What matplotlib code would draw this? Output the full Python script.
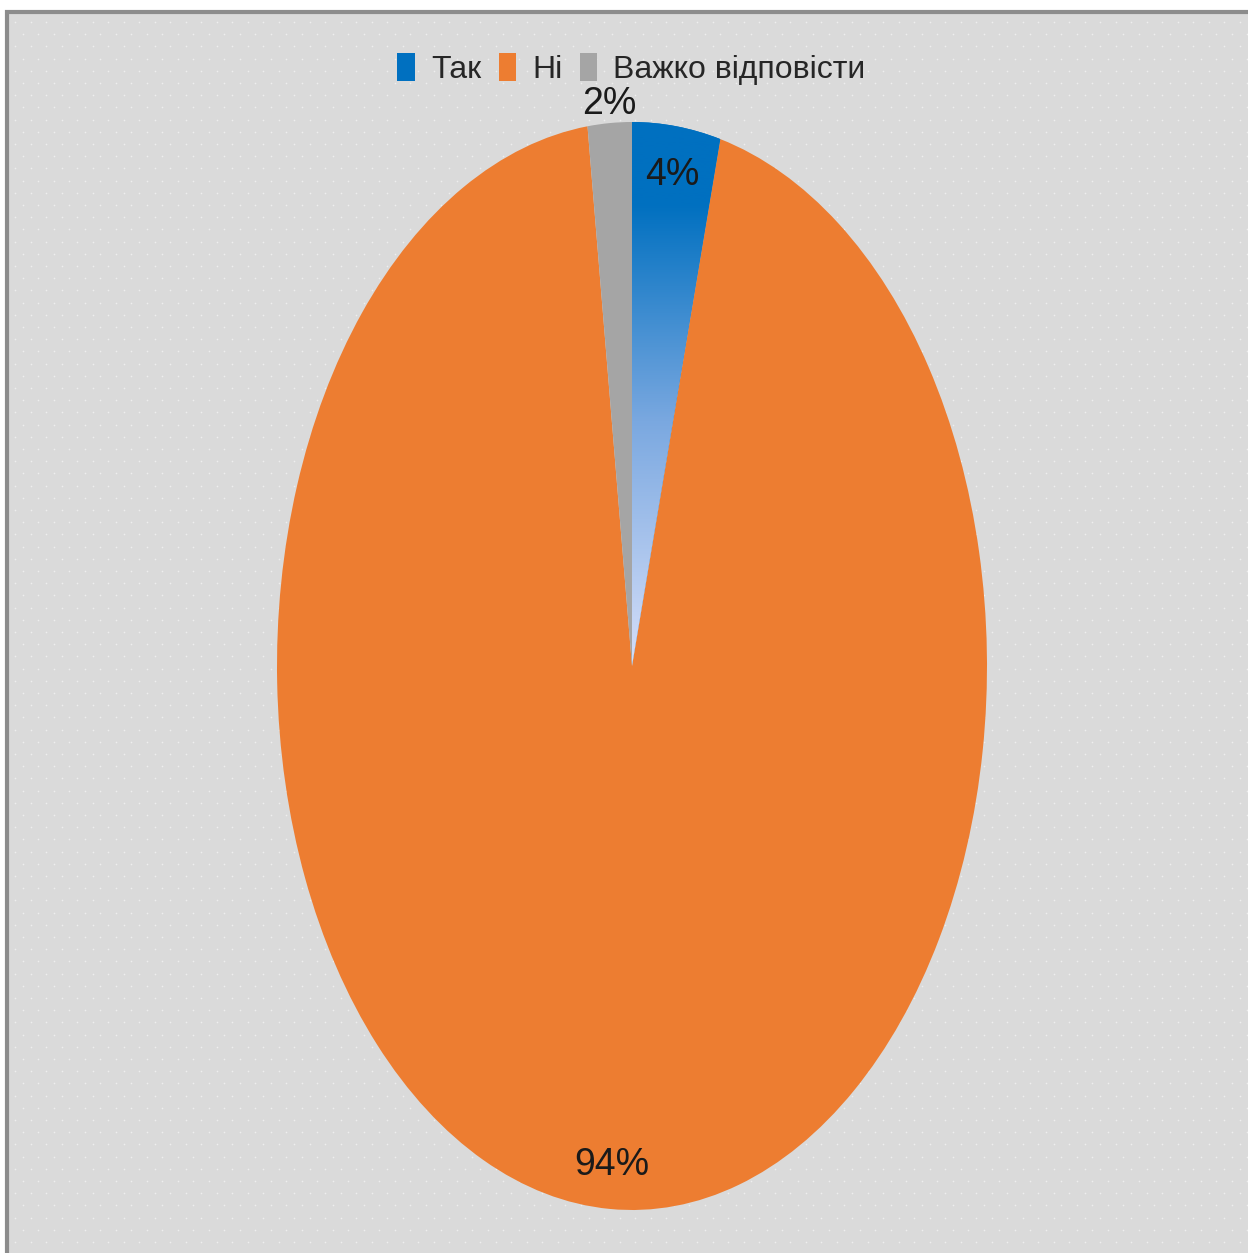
"""
Pie chart: Так / Ні / Важко відповісти
"""

import matplotlib.pyplot as plt
import numpy as np
from matplotlib.colors import LinearSegmentedColormap
from matplotlib.patches import Rectangle

# data
labels = ['Так', 'Ні', 'Важко відповісти']
values = [4, 94, 2]
pct_labels = ['4%', '94%', '2%']
colors = ['#0070c0', '#ed7d31', '#a5a5a5']

# where each percent label sits, as a fraction of the radius
label_radius = [0.91, 0.92, 1.035]

plt.rcParams['font.family'] = ['Liberation Sans', 'DejaVu Sans']

W, H = 1248, 1253
fig = plt.figure(figsize=(W / 100, H / 100), dpi=100)
fig.patch.set_facecolor('white')

# background panel with border (top + left visible)
bg = fig.add_axes([0, 0, 1, 1])
bg.set_xlim(0, W)
bg.set_ylim(H, 0)
bg.axis('off')
bg.add_patch(Rectangle((7, 12), W, H, facecolor='#dadada', edgecolor='#8c8c8c', linewidth=3))

# faint dotted texture
gx, gy = np.meshgrid(np.arange(15, W, 15.5), np.arange(22, H, 12.2))
gx = gx + (np.arange(gx.shape[0])[:, None] % 2) * 7.7
bg.scatter(gx.ravel(), gy.ravel(), s=1.5, color='#eeeeee', marker='o', linewidths=0)

# pie drawn in an axes stretched to an ellipse
cx, cy, rx, ry = 632, 666, 355, 544
ax = fig.add_axes([(cx - rx) / W, (H - cy - ry) / H, 2 * rx / W, 2 * ry / H])
wedges, _ = ax.pie(values, colors=colors, startangle=90, counterclock=False,
                   wedgeprops=dict(linewidth=0))
ax.set_aspect('auto')

# gradient fill for the "Так" slice
blue_cmap = LinearSegmentedColormap.from_list(
    'tak', [(0.0, '#d6dff9'), (0.45, '#7aa8e0'), (0.85, '#0070c0'), (1.0, '#0070c0')])
grad = np.linspace(0, 1, 256).reshape(-1, 1)
img = ax.imshow(grad, cmap=blue_cmap, origin='lower', extent=[-1, 1, 0, 1],
                aspect='auto', zorder=2)
img.set_clip_path(wedges[0])
ax.set_xlim(-1, 1)
ax.set_ylim(-1, 1)
ax.axis('off')

# percent labels
for w, txt, r in zip(wedges, pct_labels, label_radius):
    ang = np.deg2rad((w.theta1 + w.theta2) / 2)
    ax.text(r * np.cos(ang), r * np.sin(ang), txt, ha='center', va='center',
            fontsize=27, color='#1a1a1a', zorder=5, clip_on=False)

# legend
handles = [Rectangle((0, 0), 1, 1, facecolor=c, edgecolor='none') for c in colors]
fig.legend(handles, labels, loc='center', bbox_to_anchor=(0.506, 0.945), ncol=3,
           frameon=False, fontsize=23, handlelength=0.55, handleheight=1.0,
           handletextpad=0.5, columnspacing=0.55, labelcolor='#262626')

plt.savefig('out.png', dpi=100)
plt.close()
